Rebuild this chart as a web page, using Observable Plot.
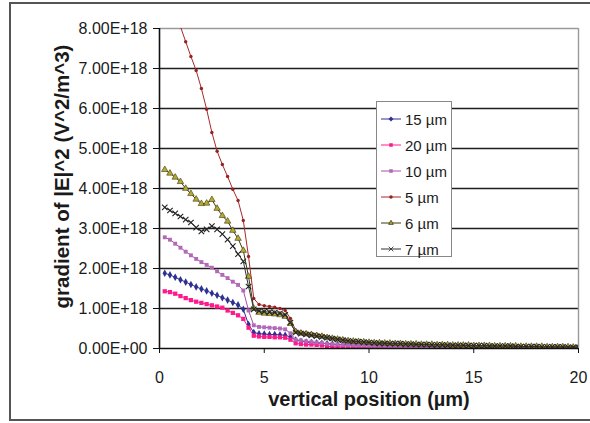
<!DOCTYPE html>
<html><head><meta charset="utf-8">
<script src="https://cdn.jsdelivr.net/npm/d3@7"></script>
<script src="https://cdn.jsdelivr.net/npm/@observablehq/plot@0.6"></script>
<style>
html,body{margin:0;padding:0;background:#fff;overflow:hidden;}
#wrap{position:relative;width:590px;height:423px;font-family:"Liberation Sans",Arial,sans-serif;}
#frame{position:absolute;left:9px;top:2px;width:600px;height:419px;box-sizing:border-box;border:2px solid #555;}
#chart{position:absolute;left:0;top:0;}
#legend{position:absolute;left:376px;top:101px;width:76px;height:156px;box-sizing:border-box;border:1px solid #888;background:#fff;padding-top:4px;}
.row{height:26px;display:flex;align-items:center;font-size:15px;color:#1a1a1a;}
.row svg{margin-left:3px;margin-right:3px;}
</style></head>
<body><div id="wrap"><div id="frame"></div><div id="chart"></div><div id="legend"></div></div>
<script>
// x sampling grid (µm)
const xs = d3.range(1, 81).map(i => i * 0.25);
const seriesNames = ["15 µm", "20 µm", "10 µm", "5 µm", "6 µm", "7 µm"];
const yTicks = [0, 1, 2, 3, 4, 5, 6, 7, 8];
const xTicks = [0, 5, 10, 15, 20];
// values in units of 1E+18 V^2/m^3
const s15 = [1.88,1.84,1.78,1.72,1.66,1.60,1.54,1.49,1.44,1.38, 1.33,1.27,1.21,1.15,1.09,0.98,0.60,0.40,0.37,0.36,
  0.35,0.35,0.34,0.33,0.29,0.21,0.18,0.16,0.15,0.14, 0.13,0.12,0.11,0.10,0.10,0.09,0.09,0.08,0.08,0.07,
  0.07,0.07,0.06,0.06,0.06,0.06,0.05,0.05, 0.05,0.05,0.05,0.05,0.04,0.04,0.04,0.04,0.04,0.04,0.04,0.03,
  0.03,0.03,0.03,0.03,0.03,0.03,0.03,0.03,0.03,0.03,0.03,0.03,0.02,0.02,0.02,0.02,0.02,0.02,0.02,0.02];
const s20 = [1.43,1.41,1.37,1.31,1.26,1.21,1.17,1.14,1.11,1.08, 1.05,1.02,0.95,0.89,0.83,0.74,0.52,0.32,0.30,0.29,
  0.29,0.28,0.28,0.27,0.22,0.13,0.11,0.10,0.10,0.09, 0.08,0.06,0.04,0.04,0.04,0.04,0.03,0.03,0.03,0.03,
  0.03,0.03,0.03,0.03,0.03,0.03,0.03,0.03, 0.03,0.03,0.03,0.03,0.03,0.03,0.02,0.02,0.02,0.02,0.02,0.02,
  0.02,0.02,0.02,0.02,0.02,0.02,0.02,0.02,0.02,0.02,0.02,0.02,0.02,0.02,0.02,0.02,0.02,0.02,0.02,0.02];
const s10 = [2.78,2.72,2.62,2.52,2.42,2.33,2.24,2.16,2.09,2.02, 1.93,1.84,1.76,1.67,1.59,1.45,0.95,0.58,0.54,0.53,
  0.52,0.51,0.50,0.48,0.38,0.22,0.20,0.18,0.17,0.15, 0.14,0.12,0.11,0.10,0.09,0.08,0.08,0.07,0.07,0.06,
  0.06,0.06,0.06,0.05,0.05,0.05,0.05,0.05, 0.05,0.04,0.04,0.04,0.04,0.04,0.04,0.04,0.04,0.03,0.03,0.03,
  0.03,0.03,0.03,0.03,0.03,0.03,0.03,0.03,0.03,0.03,0.02,0.02,0.02,0.02,0.02,0.02,0.02,0.02,0.02,0.02];
const s5 = [9.9,9.2,8.6,8.05,7.67,7.3,6.95,6.5,5.98,5.4, 4.93,4.6,4.3,3.98,3.7,3.2,2.3,1.25,1.10,1.07,
  1.05,1.03,1.00,0.95,0.75,0.45,0.42,0.40,0.38,0.36, 0.33,0.30,0.27,0.25,0.23,0.21,0.19,0.18,0.17,0.16,
  0.15,0.15,0.14,0.14,0.13,0.13,0.12,0.12, 0.11,0.11,0.10,0.10,0.10,0.09,0.09,0.09,0.08,0.08,0.08,0.08,
  0.07,0.07,0.07,0.07,0.06,0.06,0.06,0.06,0.06,0.05,0.05,0.05,0.05,0.05,0.05,0.04,0.04,0.04,0.04,0.04];
const s6 = [4.47,4.38,4.28,4.17,4.00,3.87,3.73,3.62,3.63,3.72, 3.50,3.32,3.18,2.95,2.75,2.45,1.80,1.00,0.90,0.88,
  0.87,0.86,0.84,0.80,0.62,0.42,0.38,0.36,0.34,0.32, 0.30,0.27,0.25,0.23,0.21,0.19,0.18,0.17,0.16,0.15,
  0.14,0.14,0.13,0.13,0.12,0.12,0.11,0.11, 0.11,0.10,0.10,0.10,0.09,0.09,0.09,0.08,0.08,0.08,0.08,0.07,
  0.07,0.07,0.07,0.06,0.06,0.06,0.06,0.06,0.05,0.05,0.05,0.05,0.05,0.04,0.04,0.04,0.04,0.04,0.03,0.03];
const s7 = [3.53,3.45,3.38,3.30,3.22,3.15,3.02,2.93,2.98,3.06, 2.98,2.86,2.72,2.56,2.36,2.18,1.55,0.98,0.94,0.92,
  0.91,0.90,0.88,0.84,0.65,0.40,0.37,0.35,0.33,0.31, 0.29,0.27,0.25,0.23,0.21,0.19,0.18,0.17,0.16,0.15,
  0.14,0.13,0.13,0.12,0.12,0.12,0.11,0.11, 0.10,0.10,0.10,0.09,0.09,0.09,0.08,0.08,0.08,0.08,0.07,0.07,
  0.07,0.07,0.06,0.06,0.06,0.06,0.06,0.05,0.05,0.05,0.05,0.05,0.04,0.04,0.04,0.04,0.04,0.03,0.03,0.03];

const allValues = [s15, s20, s10, s5, s6, s7];
const styles = [
  {line:"#2e3192", fill:"#2e3192", stroke:"none", symbol:"diamond", r:2.3},
  {line:"#ff1a8c", fill:"#ff1a8c", stroke:"none", symbol:"square", r:2.4},
  {line:"#a050a8", fill:"#b468b8", stroke:"none", symbol:"square", r:2.2},
  {line:"#a52a2a", fill:"#9b2020", stroke:"none", symbol:"circle", r:1.7},
  {line:"#3a3a10", fill:"#b8a830", stroke:"#3a3a10", symbol:"triangle", r:2.4},
  {line:"#333333", fill:"none", stroke:"#222222", symbol:"times", r:2.6}
];
const tables = allValues.map((vals, k) => vals.map((v, i) => ({x: xs[i], y: v, series: seriesNames[k]})));

const marks = [
  Plot.ruleY(yTicks.filter(d => d > 0 && d < 8), {stroke:"#1e1e1e", strokeWidth:1.4}),
  Plot.ruleY([8], {stroke:"#9a9a9a", strokeWidth:1.4}),
  Plot.ruleX([20], {y1:0, y2:8, stroke:"#9a9a9a", strokeWidth:1.4})
];
tables.forEach((t, k) => {
  const s = styles[k];
  marks.push(Plot.line(t, {x:"x", y:"y", stroke:s.line, strokeWidth:1, clip:true}));
  marks.push(Plot.dot(t, {x:"x", y:"y", symbol:s.symbol, r:s.r, fill:s.fill, stroke:s.stroke, strokeWidth:s.symbol==="times"?1.1:0.6, clip:true}));
});
marks.push(
  Plot.axisX({ticks:xTicks, tickSize:5, tickPadding:18, label:null, stroke:"#111", fontSize:16}),
  Plot.axisY({ticks:yTicks, tickSize:6, tickPadding:6, label:null, stroke:"#111", fontSize:16,
    tickFormat: d => d === 0 ? "0.00E+00" : d.toFixed(2) + "E+18"}),
  Plot.ruleX([0], {y1:0, y2:8, stroke:"#111", strokeWidth:1.6}),
  Plot.ruleY([0], {stroke:"#111", strokeWidth:1.6}),
  Plot.text(["vertical position (µm)"], {frameAnchor:"bottom", dy:57, fontSize:20, fontWeight:"bold", fill:"#1a1a1a"}),
  Plot.text(["gradient of |E|^2 (V^2/m^3)"], {frameAnchor:"left", textAnchor:"middle", dx:-97, dy:-12, rotate:-90, fontSize:20.5, fontWeight:"bold", fill:"#1a1a1a"})
);

const chart = Plot.plot({
  width:590, height:423,
  marginLeft:159, marginRight:12, marginTop:28, marginBottom:75,
  x:{domain:[0,20]},
  y:{domain:[0,8]},
  style:{fontFamily:"'Liberation Sans', Arial, sans-serif", fontSize:"16px", color:"#1a1a1a", background:"transparent"},
  marks
});
document.getElementById("chart").appendChild(chart);

// legend
const leg = document.getElementById("legend");
seriesNames.forEach((name, k) => {
  const s = styles[k];
  const row = document.createElement("div");
  row.className = "row";
  const sym = d3.symbol().type({diamond:d3.symbolDiamond2, square:d3.symbolSquare2, circle:d3.symbolCircle, triangle:d3.symbolTriangle2, times:d3.symbolTimes}[s.symbol]).size(s.symbol==="circle"?10:16)();
  row.innerHTML = `<svg width="22" height="10"><line x1="1" x2="21" y1="5" y2="5" stroke="${s.line}" stroke-width="1"/>` +
    `<path transform="translate(11,5)" d="${sym}" fill="${s.fill}" stroke="${s.stroke}" stroke-width="0.8"/></svg><span>${name}</span>`;
  leg.appendChild(row);
});
</script></body></html>
